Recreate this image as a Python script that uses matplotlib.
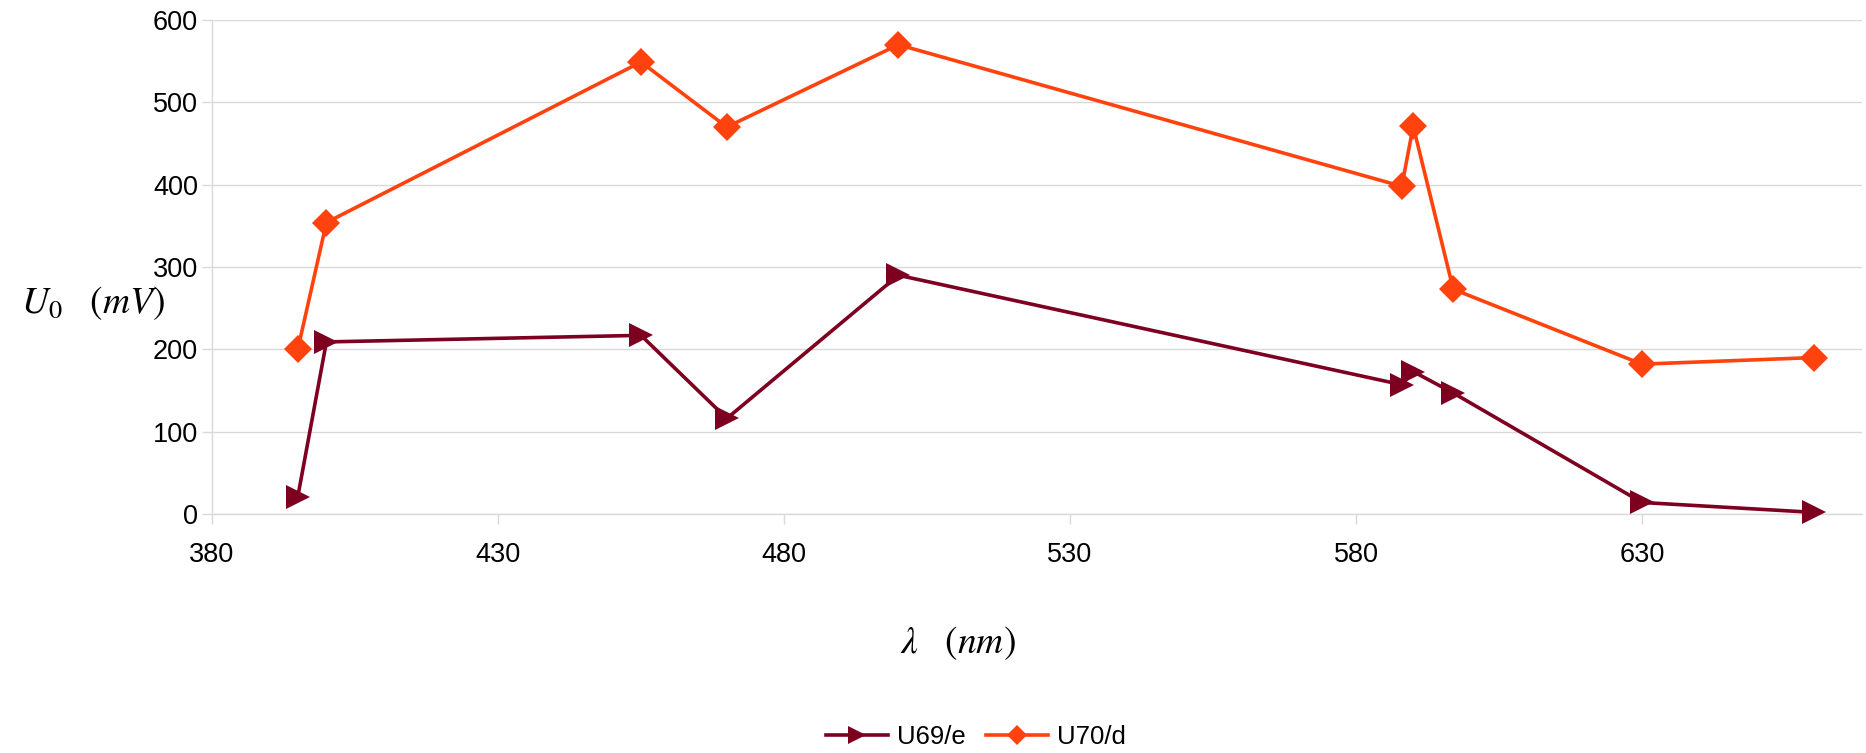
import matplotlib
matplotlib.use("Agg")
import matplotlib.pyplot as plt

plt.rcParams["font.family"] = ["Liberation Sans", "DejaVu Sans"]
plt.rcParams["mathtext.fontset"] = "stix"

# Wavelengths of the light sources (nm)
wavelength = [395, 400, 455, 470, 500, 588, 590, 597, 630, 660]
# Stopping voltages (mV) for the two photocells
u69_e = [21, 209, 217, 116, 290, 157, 173, 147, 14, 2]
u70_d = [200, 354, 549, 470, 570, 398, 471, 273, 182, 190]

x_ticks = [380, 430, 480, 530, 580, 630]
y_ticks = [0, 100, 200, 300, 400, 500, 600]

W, H = 1866, 753
fig = plt.figure(figsize=(W / 100, H / 100), dpi=100)
fig.patch.set_facecolor("white")

left, right, top, bottom = 212, 1862, 20, 514
ax = fig.add_axes([left / W, 1 - bottom / H, (right - left) / W, (bottom - top) / H])

px_per_nm = (1642 - 212) / 250.0
ax.set_xlim(380, 380 + (right - left) / px_per_nm)
ax.set_ylim(0, 600)

grid_c = "#d9d9d9"
ax.set_xticks(x_ticks)
ax.set_yticks(y_ticks)
ax.yaxis.grid(True, color=grid_c, linewidth=1.0)
ax.set_axisbelow(True)
for side in ("top", "right"):
    ax.spines[side].set_visible(False)
for side in ("left", "bottom"):
    ax.spines[side].set_color(grid_c)
    ax.spines[side].set_linewidth(1.0)
ax.tick_params(axis="both", colors=grid_c, labelcolor="black", labelsize=19.5,
               length=7, width=1.0, direction="out")
ax.tick_params(axis="x", pad=13)
ax.tick_params(axis="y", pad=3)

c69 = "#7E0021"
c70 = "#FF420E"
ax.plot(wavelength, u69_e, color=c69, linewidth=2.6, marker=">", markersize=17,
        markeredgewidth=0, label="U69/e", clip_on=False, zorder=3)
ax.plot(wavelength, u70_d, color=c70, linewidth=2.6, marker="D", markersize=14,
        markeredgewidth=0, label="U70/d", clip_on=False, zorder=3)

fig.text(93 / W, 1 - 303 / H, r"$U_0\quad\left(mV\right)$", fontsize=27,
         ha="center", va="center")
fig.text(958 / W, 1 - 643 / H, r"$\lambda\quad\left(nm\right)$", fontsize=27,
         ha="center", va="center")

fig.legend(loc="center", bbox_to_anchor=(976 / W, 1 - 737 / H), ncol=2,
           frameon=False, fontsize=18.5, handlelength=2.4, handletextpad=0.35,
           columnspacing=0.8, markerscale=0.75)

fig.savefig("out.png", dpi=100, facecolor="white")
